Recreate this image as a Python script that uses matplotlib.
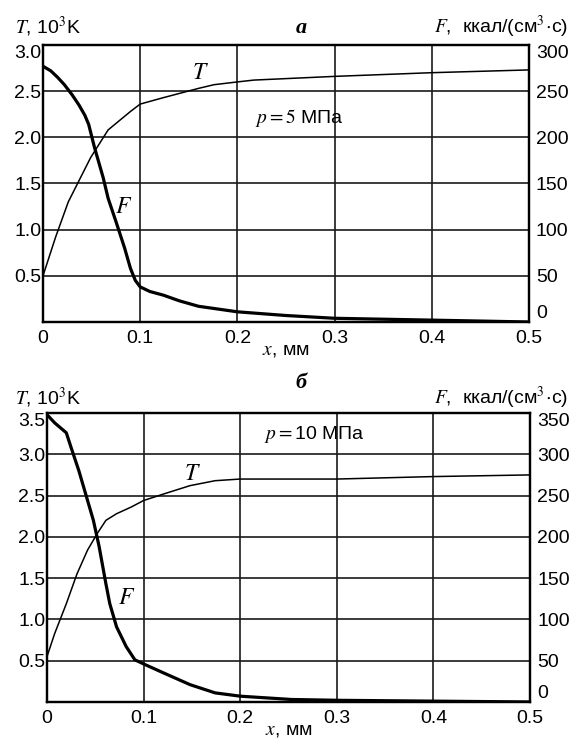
import matplotlib

matplotlib.use("Agg")
import matplotlib.pyplot as plt  # noqa: E402

plt.rcParams["font.family"] = ["Liberation Sans", "DejaVu Sans"]
plt.rcParams["mathtext.fontset"] = "stix"

# panel a, p = 5 MPa
x_T_a = [0.0, 0.013, 0.026, 0.049, 0.067, 0.090, 0.100, 0.124, 0.160, 0.176, 0.200, 0.217,
         0.300, 0.400, 0.500]
T_a = [0.50, 0.92, 1.30, 1.78, 2.08, 2.28, 2.36, 2.43, 2.53, 2.57, 2.60, 2.62, 2.66, 2.70, 2.73]
x_F_a = [0.0, 0.008, 0.015, 0.022, 0.030, 0.037, 0.043, 0.047, 0.053, 0.062, 0.067, 0.075,
         0.084, 0.090, 0.095, 0.100, 0.110, 0.124, 0.140, 0.160, 0.200, 0.250, 0.300, 0.400,
         0.500]
F_a = [277, 272, 265, 257, 246, 235, 224, 214, 189, 156, 134, 109, 80, 58, 45, 38, 33, 29,
       23, 17, 11, 7, 4, 2, 0]

# panel б, p = 10 MPa
x_T_b = [0.0, 0.008, 0.020, 0.031, 0.042, 0.052, 0.061, 0.072, 0.087, 0.100, 0.121, 0.148,
         0.174, 0.200, 0.300, 0.400, 0.500]
T_b = [0.55, 0.83, 1.19, 1.55, 1.84, 2.04, 2.20, 2.28, 2.36, 2.44, 2.52, 2.62, 2.68, 2.70,
       2.70, 2.73, 2.75]
x_F_b = [0.0, 0.008, 0.020, 0.025, 0.033, 0.040, 0.048, 0.054, 0.061, 0.065, 0.072, 0.082,
         0.091, 0.102, 0.121, 0.148, 0.174, 0.200, 0.253, 0.302, 0.500]
F_b = [348, 338, 326, 308, 280, 252, 220, 188, 143, 119, 91, 67, 51, 45, 35, 21, 11, 7, 3, 2, 0]

x_ticks = [0, 0.1, 0.2, 0.3, 0.4, 0.5]
x_ticklabels = ["0", "0.1", "0.2", "0.3", "0.4", "0.5"]

panels = [
    dict(rect=[0.0753, 0.5649, 0.851, 0.3743], xT=x_T_a, T=T_a, xF=x_F_a, F=F_a, tmax=3.0,
         tticks=[0.5, 1.0, 1.5, 2.0, 2.5, 3.0], fticks=[0, 50, 100, 150, 200, 250, 300],
         title="a", ptxt=r"$p = 5$ МПа", ppos=(0.218, 2.21),
         Tlab=(0.162, 2.70), Flab=(0.083, 1.25), head_y=0.963, title_y=0.962),
    dict(rect=[0.0823, 0.0514, 0.846, 0.3905], xT=x_T_b, T=T_b, xF=x_F_b, F=F_b, tmax=3.5,
         tticks=[0.5, 1.0, 1.5, 2.0, 2.5, 3.0, 3.5],
         fticks=[0, 50, 100, 150, 200, 250, 300, 350],
         title="б", ptxt=r"$p=$10 МПа", ppos=(0.225, 3.24),
         Tlab=(0.151, 2.76), Flab=(0.082, 1.26), head_y=0.462, title_y=0.482),
]

fig = plt.figure(figsize=(5.71, 7.40), dpi=100)

for p in panels:
    ax = fig.add_axes(p["rect"])
    ax.set_xlim(0, 0.5)
    ax.set_ylim(0, p["tmax"])
    ax.plot(p["xT"], p["T"], color="black", lw=1.1, zorder=3)
    ax.set_xticks(x_ticks)
    ax.set_xticklabels(x_ticklabels)
    ax.set_yticks(p["tticks"])
    ax.set_yticklabels([f"{v:.1f}" for v in p["tticks"]])
    ax.grid(True, color="#1a1a1a", lw=1.2)
    ax.tick_params(axis="y", length=0, labelsize=14, pad=1)
    ax.tick_params(axis="x", length=0, labelsize=14, pad=6)
    for s in ax.spines.values():
        s.set_linewidth(1.6)
    ax.get_yticklabels()[-1].set_va("top")

    ax2 = ax.twinx()
    ax2.set_ylim(0, p["tmax"] * 100)
    ax2.plot(p["xF"], p["F"], color="black", lw=2.3, zorder=3)
    ax2.set_yticks(p["fticks"])
    ax2.tick_params(length=0, labelsize=14, pad=5)
    for s in ax2.spines.values():
        s.set_linewidth(1.6)
    labs = ax2.get_yticklabels()
    labs[0].set_va("bottom")
    labs[-1].set_va("top")

    fig.text(0.026, p["head_y"], r"$T$, 10$^3$K", ha="left", va="center", fontsize=14)
    fig.text(0.995, p["head_y"], r"$F$,  ккал/(см$^{3}\!\cdot\!$с)", ha="right", va="center",
             fontsize=14)
    fig.text(0.527, p["title_y"], p["title"], ha="center", va="center",
             fontsize=16, family="Liberation Serif", style="italic", fontweight="bold")
    ax.text(*p["ppos"], p["ptxt"], fontsize=14, ha="left", va="center")
    ax.text(*p["Tlab"], r"$T$", fontsize=17, ha="center", va="center")
    ax.text(*p["Flab"], r"$F$", fontsize=17, ha="center", va="center")
    ax.set_xlabel(r"$x$, мм", fontsize=14, labelpad=-4)

fig.savefig("out.png", dpi=100)
